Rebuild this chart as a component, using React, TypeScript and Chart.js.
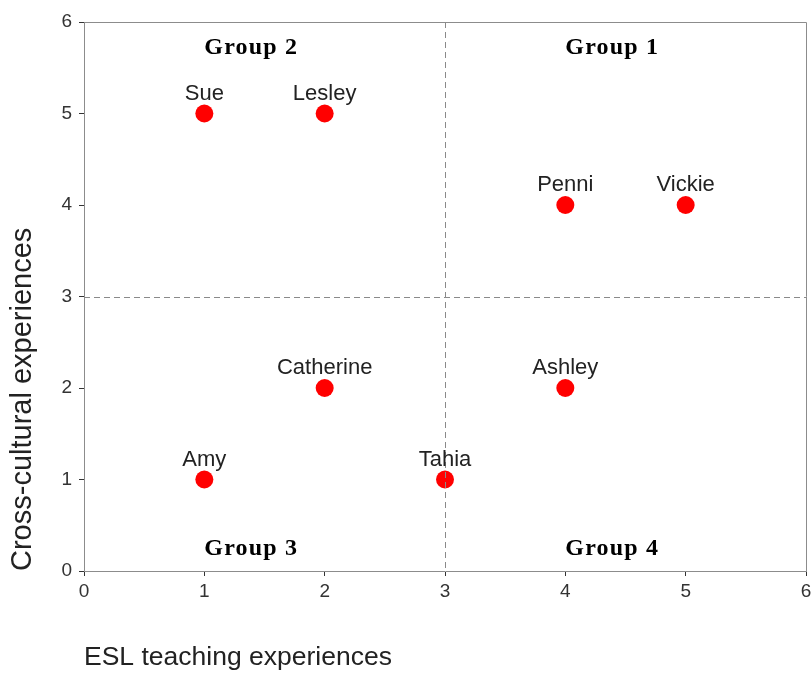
import React, { useEffect, useRef } from "react";
import { Chart, registerables } from "chart.js";

Chart.register(...registerables);

const participants = ["Sue", "Lesley", "Penni", "Vickie", "Catherine", "Ashley", "Amy", "Tahia"];
const eslTeaching = [1, 2, 4, 5, 2, 4, 1, 3];
const crossCultural = [5, 5, 4, 4, 2, 2, 1, 1];

const xTickLabels = ["0", "1", "2", "3", "4", "5", "6"];
const yTickLabels = ["0", "1", "2", "3", "4", "5", "6"];

const groupNames = ["Group 2", "Group 1", "Group 3", "Group 4"];
const groupX = [1, 4, 1, 4];
const groupY = [5.65, 5.65, 0.18, 0.18];

const dividerX = 3;
const dividerY = 3;

const zeroPadding = () => ({ left: 0, top: 0, right: 0, bottom: 0 });

const overlayPlugin = {
  id: "overlay",
  afterDatasetsDraw(chart: any) {
    const { ctx, chartArea, scales } = chart;
    const xs = scales.x;
    const ys = scales.y;
    ctx.save();
    // box border (top and right)
    ctx.strokeStyle = "#8c8c8c";
    ctx.lineWidth = 1;
    ctx.beginPath();
    ctx.moveTo(chartArea.left, chartArea.top + 0.5);
    ctx.lineTo(chartArea.right + 0.5, chartArea.top + 0.5);
    ctx.lineTo(chartArea.right + 0.5, chartArea.bottom);
    ctx.stroke();
    // dashed dividers
    ctx.strokeStyle = "#8a8a8a";
    ctx.setLineDash([6, 4]);
    const px = Math.round(xs.getPixelForValue(dividerX)) + 0.5;
    const py = Math.round(ys.getPixelForValue(dividerY)) + 0.5;
    ctx.beginPath();
    ctx.moveTo(px, chartArea.top);
    ctx.lineTo(px, chartArea.bottom);
    ctx.moveTo(chartArea.left, py);
    ctx.lineTo(chartArea.right, py);
    ctx.stroke();
    ctx.setLineDash([]);

    // point names
    const meta = chart.getDatasetMeta(0);
    ctx.fillStyle = "#222";
    ctx.font = '22px "Liberation Sans", Arial, sans-serif';
    ctx.textAlign = "center";
    ctx.textBaseline = "alphabetic";
    meta.data.forEach((el: any, i: number) => {
      ctx.fillText(participants[i], el.x, el.y - 14);
    });

    // group labels
    ctx.fillStyle = "#000";
    ctx.font = 'bold 24px "Liberation Serif", "Times New Roman", serif';
    (ctx as any).letterSpacing = "1.2px";
    ctx.textAlign = "left";
    groupNames.forEach((g, i) => {
      ctx.fillText(g, xs.getPixelForValue(groupX[i]), ys.getPixelForValue(groupY[i]));
    });
    (ctx as any).letterSpacing = "0px";
    ctx.restore();
  },
};

export default function App() {
  const ref = useRef<HTMLCanvasElement | null>(null);
  useEffect(() => {
    document.body.style.margin = "0";
    if (!ref.current) return;
    const chart = new Chart(ref.current, {
      type: "scatter",
      data: {
        datasets: [
          {
            data: eslTeaching.map((x, i) => ({ x, y: crossCultural[i] })),
            backgroundColor: "#ff0000",
            borderColor: "#ff0000",
            borderWidth: 0,
            pointRadius: 9,
            pointHoverRadius: 9,
          },
        ],
      },
      options: {
        responsive: false,
        animation: false,
        layout: { autoPadding: false, padding: { top: 22, right: 6, left: 0, bottom: 0 } },
        plugins: {
          legend: { display: false },
          tooltip: { enabled: false },
        },
        scales: {
          x: {
            type: "linear",
            min: 0,
            max: 6,
            afterFit: (s: any) => {
              s.height = 104;
              s.paddingRight = 0;
              s.paddingLeft = 0;
              s.getPadding = zeroPadding;
            },
            ticks: {
              stepSize: 1,
              padding: 4,
              color: "#333",
              font: { size: 19, family: '"Liberation Sans", Arial, sans-serif' },
              callback: (v: any) => xTickLabels[v] ?? "",
            },
            grid: { drawOnChartArea: false, drawTicks: true, tickLength: 5, color: "#333" },
            border: { display: true, color: "#8c8c8c", width: 1 },
            title: {
              display: true,
              text: "ESL teaching experiences",
              align: "start",
              color: "#222",
              padding: { top: 0, bottom: 1 },
              font: { size: 26.5, family: '"Liberation Sans", Arial, sans-serif' },
            },
          },
          y: {
            type: "linear",
            min: 0,
            max: 6,
            afterFit: (s: any) => {
              s.width = 84;
              s.paddingTop = 0;
              s.paddingBottom = 0;
              s.getPadding = zeroPadding;
            },
            ticks: {
              stepSize: 1,
              padding: 7,
              color: "#333",
              font: { size: 19, family: '"Liberation Sans", Arial, sans-serif' },
              callback: (v: any) => yTickLabels[v] ?? "",
            },
            grid: { drawOnChartArea: false, drawTicks: true, tickLength: 5, color: "#333" },
            border: { display: true, color: "#8c8c8c", width: 1 },
            title: {
              display: true,
              text: "Cross-cultural experiences",
              align: "start",
              color: "#222",
              padding: { top: 5.5, bottom: 0 },
              font: { size: 29, family: '"Liberation Sans", Arial, sans-serif' },
            },
          },
        },
      },
      plugins: [overlayPlugin],
    });
    return () => chart.destroy();
  }, []);
  return (
    <div style={{ width: 812, height: 675 }}>
      <canvas ref={ref} width={812} height={675} />
    </div>
  );
}
